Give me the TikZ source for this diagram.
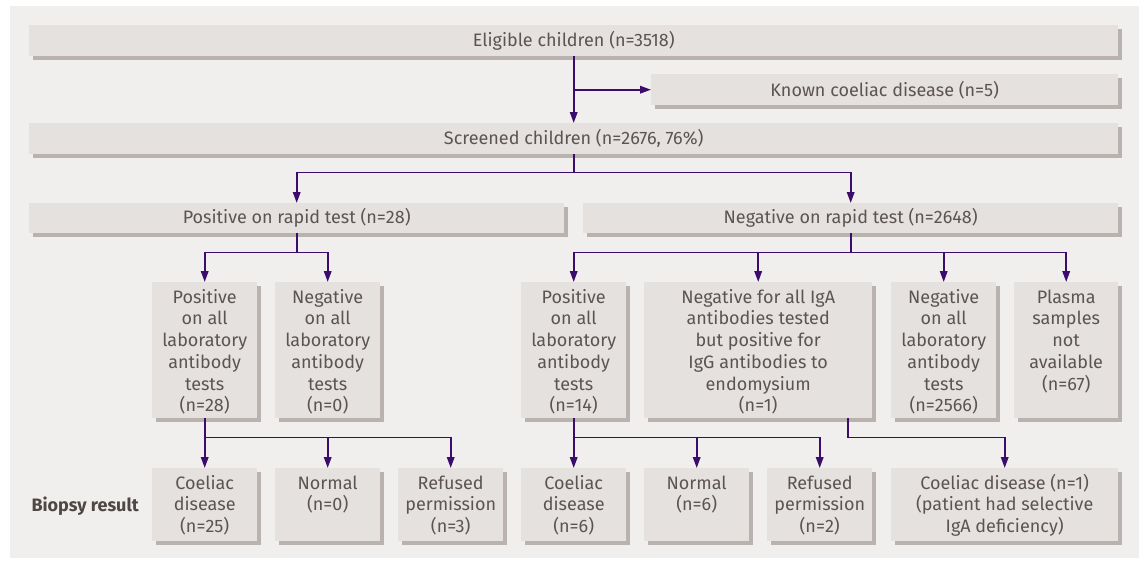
\documentclass[tikz,border=0pt]{standalone}
\usepackage{fontspec}
\setmainfont{Fira Sans}
\usepackage{tikz}
\usetikzlibrary{arrows.meta,shadows}

\definecolor{bggray}{HTML}{F0EFED}
\definecolor{boxgray}{HTML}{E5E1DE}
\definecolor{shadowgray}{HTML}{BAB2AE}
\definecolor{textgray}{HTML}{5C5452}
\definecolor{flowpurple}{HTML}{3B0C6C}

\newcommand{\cell}[3]{\parbox[t][#2][t]{#1}{\centering\rule{0pt}{21pt}#3}}

\begin{document}
\begin{tikzpicture}[x=1pt,y=-1pt,
	font=\fontsize{18}{21.7}\selectfont,
	box/.style={rectangle,fill=boxgray,text=textgray,inner sep=0pt,anchor=north west,
		general shadow={fill=shadowgray,shadow xshift=3.5pt,shadow yshift=-3.5pt}},
	bar/.style={box,minimum height=31pt},
	flow/.style={draw=flowpurple,line width=1.8pt,-{Triangle[length=11pt,width=7.5pt]}}]
	\useasboundingbox (0,0) rectangle (1139,562);
	\fill[bggray] (10,6) rectangle (1139,558);

	\node[bar,minimum width=1089pt] (elig) at (29,25) {Eligible children (n=3518)};
	\node[bar,minimum width=467pt] (known) at (651,74) {Known coeliac disease (n=5)};
	\node[bar,minimum width=1089pt] (screen) at (29,123) {Screened children (n=2676, 76\%)};
	\node[bar,minimum width=535pt,minimum height=30pt] (posrapid) at (29,203) {Positive on rapid test (n=28)};
	\node[bar,minimum width=535pt,minimum height=30pt] (negrapid) at (583,203) {Negative on rapid test (n=2648)};

	\node[box] (poslabL) at (152,282) {\cell{105pt}{136pt}{Positive\\on all\\laboratory\\antibody\\tests\\(n=28)}};
	\node[box] (neglabL) at (275,282) {\cell{105pt}{136pt}{Negative\\on all\\laboratory\\antibody\\tests\\(n=0)}};
	\node[box] (poslabR) at (521,282) {\cell{105pt}{136pt}{Positive\\on all\\laboratory\\antibody\\tests\\(n=14)}};
	\node[box] (negiga) at (644,282) {\cell{228pt}{136pt}{Negative for all IgA\\antibodies tested\\but positive for\\IgG antibodies to\\endomysium\\(n=1)}};
	\node[box] (neglabR) at (891,282) {\cell{105pt}{136pt}{Negative\\on all\\laboratory\\antibody\\tests\\(n=2566)}};
	\node[box] (plasma) at (1014,282) {\cell{104pt}{136pt}{Plasma\\samples\\not\\available\\(n=67)}};

	\node[box] (coelL) at (152,468) {\cell{105pt}{73pt}{Coeliac\\disease\\(n=25)}};
	\node[box] (normL) at (275,468) {\cell{105pt}{73pt}{Normal\\(n=0)}};
	\node[box] (refL) at (398,468) {\cell{105pt}{73pt}{Refused\\permission\\(n=3)}};
	\node[box] (coelR) at (521,468) {\cell{105pt}{73pt}{Coeliac\\disease\\(n=6)}};
	\node[box] (normR) at (644,468) {\cell{105pt}{73pt}{Normal\\(n=6)}};
	\node[box] (refR) at (767,468) {\cell{105pt}{73pt}{Refused\\permission\\(n=2)}};
	\node[box] (coelone) at (891,468) {\cell{227pt}{73pt}{Coeliac disease (n=1)\\(patient had selective\\IgA deficiency)}};

	\node[anchor=base west,text=textgray!85!black,font=\fontsize{18}{21.7}\selectfont\bfseries] (biopsy) at (28,511) {Biopsy result};

	\draw[flow] (elig.south) -- (screen.north);
	\draw[flow] (elig.south |- known.west) -- (known.west);
	\draw[flow] (screen.south) -- ++(0,18) -| (posrapid.north);
	\draw[flow] (screen.south) -- ++(0,18) -| (negrapid.north);

	\draw[flow] (posrapid.south) -- ++(0,19) -| (poslabL.north);
	\draw[flow] (posrapid.south) -- ++(0,19) -| (neglabL.north);
	\draw[flow] (negrapid.south) -- ++(0,19) -| (poslabR.north);
	\draw[flow] (negrapid.south) -- ++(0,19) -| (negiga.north);
	\draw[flow] (negrapid.south) -- ++(0,19) -| (neglabR.north);
	\draw[flow] (negrapid.south) -- ++(0,19) -| (plasma.north);

	\draw[flow] (poslabL.south) -- ++(0,19) -| (coelL.north);
	\draw[flow] (poslabL.south) -- ++(0,19) -| (normL.north);
	\draw[flow] (poslabL.south) -- ++(0,19) -| (refL.north);
	\draw[flow] (poslabR.south) -- ++(0,19) -| (coelR.north);
	\draw[flow] (poslabR.south) -- ++(0,19) -| (normR.north);
	\draw[flow] (poslabR.south) -- ++(0,19) -| (refR.north);
	\coordinate (igaout) at ([xshift=90pt]negiga.south);
	\draw[flow] (igaout) -- ++(0,19) -| (coelone.north);
\end{tikzpicture}
\end{document}
